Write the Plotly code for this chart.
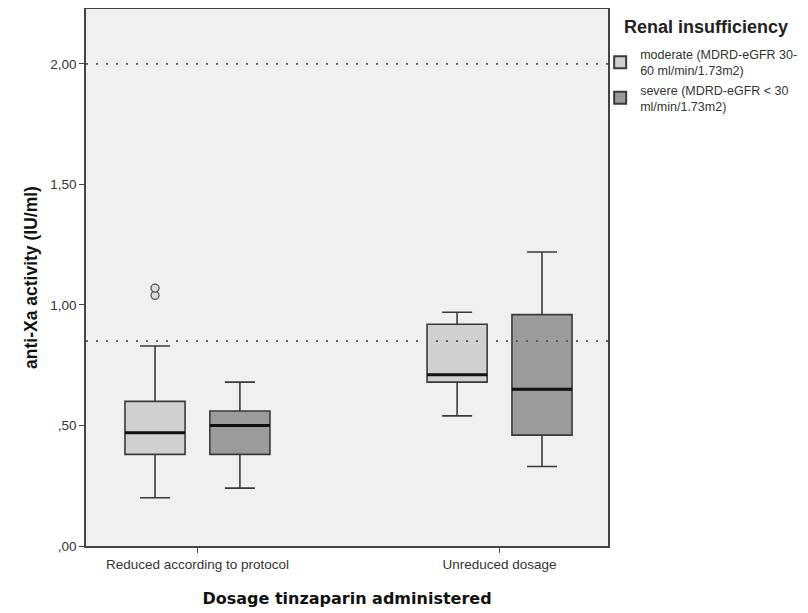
import plotly.graph_objects as go

categories = ["Reduced according to protocol", "Unreduced dosage"]
series_names = ["moderate (MDRD-eGFR 30-<br>60 ml/min/1.73m2)",
                "severe (MDRD-eGFR < 30<br>ml/min/1.73m2)"]
legend_title = "Renal insufficiency"

moderate_lower = [0.20, 0.54]
moderate_q1 = [0.38, 0.68]
moderate_median = [0.47, 0.71]
moderate_q3 = [0.60, 0.92]
moderate_upper = [0.83, 0.97]
moderate_outliers = [[1.04, 1.07], []]

severe_lower = [0.24, 0.33]
severe_q1 = [0.38, 0.46]
severe_median = [0.50, 0.65]
severe_q3 = [0.56, 0.96]
severe_upper = [0.68, 1.22]
severe_outliers = None

reference_lines = [0.85, 2.00]
ytick_vals = [0.0, 0.5, 1.0, 1.5, 2.0]
ytick_text = [",00", ",50", "1,00", "1,50", "2,00"]

fills = ["#d0d0d0", "#9b9b9b"]
groups = ["m", "s"]

fig = go.Figure()
stats = [
    (moderate_lower, moderate_q1, moderate_median, moderate_q3, moderate_upper, moderate_outliers),
    (severe_lower, severe_q1, severe_median, severe_q3, severe_upper, severe_outliers),
]
for k, (lo, q1, med, q3, up, outl) in enumerate(stats):
    fig.add_trace(go.Box(
        name=series_names[k], x=categories, y=outl,
        lowerfence=lo, q1=q1, median=med, q3=q3, upperfence=up,
        boxpoints="outliers", offsetgroup=groups[k], alignmentgroup="a",
        fillcolor=fills[k], line=dict(color="#3a3a3a", width=1.6),
        whiskerwidth=0.5,
        marker=dict(symbol="circle", size=8, color="#dcdcdc",
                    line=dict(color="#555555", width=1.3)),
        showlegend=True, hoverinfo="skip",
    ))
    # thick median line
    fig.add_trace(go.Box(
        name=series_names[k], x=categories,
        lowerfence=med, q1=med, median=med, q3=med, upperfence=med,
        offsetgroup=groups[k], alignmentgroup="a", boxpoints=False,
        fillcolor="rgba(0,0,0,0)", line=dict(color="#111111", width=3),
        whiskerwidth=0, showlegend=False, hoverinfo="skip",
    ))

for r in reference_lines:
    fig.add_hline(y=r, line=dict(color="#555555", width=1.8, dash="2px,8px"), layer="above")

fig.add_annotation(
    text="<b>" + legend_title + "</b>", xref="paper", yref="paper",
    x=1.027, y=0.966, xanchor="left", yanchor="middle", showarrow=False,
    font=dict(family="Liberation Sans, Arial", size=18, color="#222222"),
)

fig.update_layout(
    width=800, height=605,
    margin=dict(l=78, r=200, t=1, b=67),
    paper_bgcolor="white", plot_bgcolor="#f0f0f0",
    boxmode="group", boxgap=0.438, boxgroupgap=0.292,
    font=dict(family="Liberation Sans, Arial, sans-serif", size=13, color="#333333"),
    legend=dict(
        x=0.985, xanchor="left", y=0.943, yanchor="top",
        font=dict(size=12.5, color="#333333"),
        bgcolor="rgba(0,0,0,0)", itemsizing="constant", tracegroupgap=0,
    ),
    xaxis=dict(
        type="category", range=[-0.369, 1.359], automargin=False,
        showline=True, linecolor="#444444", linewidth=1.5, mirror=True,
        ticks="outside", ticklen=5, tickcolor="#444444", showgrid=False,
        tickfont=dict(size=13.5, color="#333333"),
        title=dict(text="<b>Dosage tinzaparin administered</b>",
                   font=dict(family="DejaVu Sans, Verdana", size=16, color="#111111"),
                   standoff=22),
    ),
    yaxis=dict(
        range=[0, 2.228], tickvals=ytick_vals, ticktext=ytick_text, automargin=False,
        showline=True, linecolor="#444444", linewidth=1.5, mirror=True,
        ticks="outside", ticklen=5, tickcolor="#444444", showgrid=False, zeroline=False,
        tickfont=dict(size=13.5, color="#333333"),
        title=dict(text="<b>anti-Xa activity (IU/ml)</b>",
                   font=dict(family="Liberation Sans, Arial", size=17.5, color="#111111"),
                   standoff=8),
    ),
)

fig.write_html("out.html")
